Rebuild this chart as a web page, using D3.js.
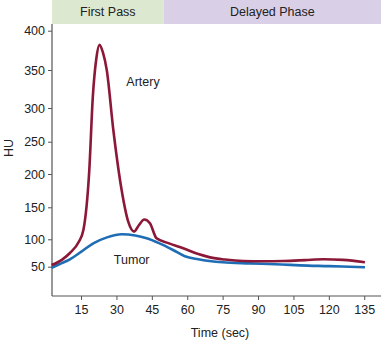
<!DOCTYPE html>
<html><head><meta charset="utf-8">
<script src="https://cdn.jsdelivr.net/npm/d3@7"></script>
<style>body{margin:0;background:#fff}svg{display:block;font-family:"Liberation Sans",Arial,sans-serif}</style>
</head><body><svg id="c" width="381" height="341"></svg>
<script>
const yTicks = [50,100,150,200,250,300,350,400];
const xTicks = [15,30,45,60,75,90,105,120,135];
const phases = ["First Pass","Delayed Phase"];
const phaseBounds = [[2.7,50],[50,142.1]];
const arteryT = [2.5,7,10.3,14,16,18.5,20,21.5,22.8,24.3,25.9,28.7,32.2,35,37.5,39.5,41.8,44.2,47,52,58.3,64.7,69.7,76,83.8,92,100.7,110,117.7,126,135.3];
const arteryV = [53,63,75,95,114.5,206,315,365,382,372,350,267,176,127.5,112,122,131,125,101.5,93,83.6,73,67,63,60.4,60,60.4,62,63.5,62.5,58];
const tumorT = [2.5,6,10.3,15,20.2,26,32.2,38,42.8,48,54,59,64.7,75,86.6,100,107.8,120,135.3];
const tumorV = [48,55,63.5,77,92.7,103,108,106,101.6,93,80.5,69,63.5,58,56,54,52.5,51,49];

const svg = d3.select("#c");
const x = d3.scaleLinear().domain([2.7,142.1]).range([52,381]);
const y = d3.scaleLinear().domain(yTicks).range([266.7,239.3,207.3,174,141.7,108,70,30.7]);
const y2 = d3.scaleLinear().domain([0,1]).range([296,24]);

// header bands
const cols = ["#dde8d1","#d9d0e8"];
phases.forEach((p,i)=>{
  const b = phaseBounds[i];
  svg.append("rect").attr("x",x(b[0])).attr("y",0).attr("width",x(b[1])-x(b[0])).attr("height",24).attr("fill",cols[i]);
  svg.append("text").attr("x",(x(b[0])+x(b[1]))/2).attr("y",12).attr("dy","0.35em")
    .attr("text-anchor","middle").attr("font-size","12.5px").attr("fill","#222").text(p);
});

// axes
const ax = svg.append("g").attr("transform","translate(52,0)")
  .call(d3.axisLeft(y).tickValues(yTicks).tickSize(4).tickPadding(3));
ax.select(".domain").remove();
ax.selectAll("line").attr("stroke","#555");
ax.selectAll("text").attr("font-size","12.5px").attr("fill","#222").attr("font-family","Liberation Sans, Arial, sans-serif");
svg.append("line").attr("x1",52).attr("x2",52).attr("y1",y2(1)).attr("y2",y2(0)).attr("stroke","#555").attr("stroke-width",1.2);

const bx = svg.append("g").attr("transform","translate(0,296)")
  .call(d3.axisBottom(x).tickValues(xTicks).tickSize(4).tickPadding(5));
bx.select(".domain").remove();
bx.selectAll("line").attr("stroke","#555");
bx.selectAll("text").attr("font-size","12.5px").attr("fill","#222").attr("font-family","Liberation Sans, Arial, sans-serif");
svg.append("line").attr("x1",52).attr("x2",381).attr("y1",296).attr("y2",296).attr("stroke","#555").attr("stroke-width",1.2);

svg.append("text").attr("x",220).attr("y",333).attr("dy","0.35em").attr("text-anchor","middle")
  .attr("font-size","12.5px").attr("fill","#222").text("Time (sec)");
svg.append("text").attr("transform","translate(9,148) rotate(-90)").attr("dy","0.35em").attr("text-anchor","middle")
  .attr("font-size","12.5px").attr("fill","#222").text("HU");

// curves
const line = d3.line().x(d=>x(d[0])).y(d=>y(d[1])).curve(d3.curveMonotoneX);
svg.append("path").datum(tumorT.map((t,i)=>[t,tumorV[i]])).attr("d",line)
  .attr("fill","none").attr("stroke","#1f6db4").attr("stroke-width",2.6);
svg.append("path").datum(arteryT.map((t,i)=>[t,arteryV[i]])).attr("d",line)
  .attr("fill","none").attr("stroke","#8c1838").attr("stroke-width",2.6);

svg.append("text").attr("x",143).attr("y",81.7).attr("dy","0.35em").attr("text-anchor","middle")
  .attr("font-size","12.5px").attr("fill","#222").text("Artery");
svg.append("text").attr("x",131.7).attr("y",260).attr("dy","0.35em").attr("text-anchor","middle")
  .attr("font-size","12.5px").attr("fill","#222").text("Tumor");
</script></body></html>
